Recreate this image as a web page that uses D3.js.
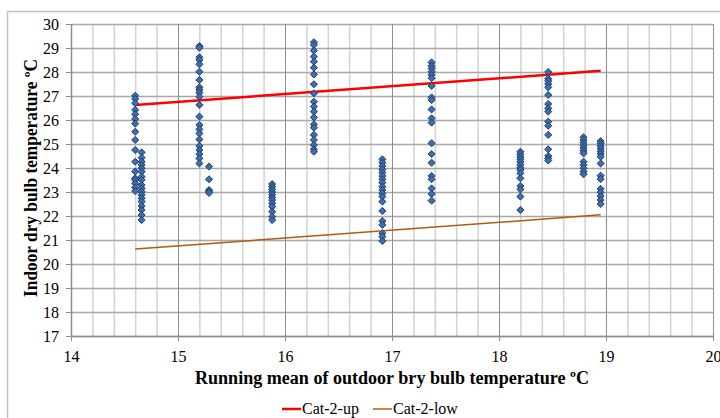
<!DOCTYPE html>
<html>
<head>
<meta charset="utf-8">
<script src="https://cdn.jsdelivr.net/npm/d3@7"></script>
<style>
  html, body { margin: 0; padding: 0; background: #ffffff; }
  svg { display: block; }
  svg text { font-family: "Liberation Serif", "Times New Roman", serif; }
</style>
</head>
<body>
<svg id="chart" width="720" height="418"></svg>
<script>
// ---------------- data ----------------
const xTicks = [14, 15, 16, 17, 18, 19, 20];
const yTicks = [17, 18, 19, 20, 21, 22, 23, 24, 25, 26, 27, 28, 29, 30];

// running mean outdoor temperature of each measurement group
const outdoorTemps = [14.60, 14.66, 15.20, 15.29, 15.88, 16.27, 16.91, 17.37, 18.20, 18.46, 18.79, 18.95];

// indoor dry bulb temperatures observed for each group
const indoorTemps = [
  [27.01, 26.88, 26.70, 26.42, 26.24, 26.04, 25.85, 25.51, 25.17, 24.75, 24.26, 23.85, 23.57, 23.50, 23.36, 23.19, 23.04],
  [24.65, 24.43, 24.26, 24.13, 23.99, 23.85, 23.64, 23.50, 23.29, 23.15, 23.01, 22.88, 22.74, 22.60, 22.42, 22.25, 22.04, 21.83],
  [29.08, 29.01, 28.61, 28.50, 28.32, 28.01, 27.67, 27.36, 27.25, 27.14, 26.97, 26.63, 26.14, 25.79, 25.61, 25.44, 25.19, 24.92, 24.75, 24.58, 24.40, 24.19],
  [24.06, 23.53, 23.08, 23.03, 22.96],
  [23.33, 23.22, 23.11, 23.00, 22.89, 22.78, 22.67, 22.53, 22.39, 22.18, 21.97, 21.83],
  [29.24, 29.13, 28.89, 28.64, 28.43, 28.18, 27.90, 27.49, 27.11, 26.76, 26.56, 26.35, 26.11, 25.82, 25.68, 25.38, 25.17, 24.96, 24.78, 24.68],
  [24.36, 24.22, 24.08, 23.94, 23.81, 23.67, 23.53, 23.39, 23.22, 23.08, 22.94, 22.81, 22.60, 22.21, 21.79, 21.63, 21.28, 21.14, 20.96],
  [28.40, 28.26, 28.15, 28.01, 27.88, 27.74, 27.42, 26.94, 26.83, 26.44, 26.07, 25.89, 25.03, 24.58, 24.22, 23.67, 23.53, 23.15, 22.92, 22.64],
  [24.68, 24.57, 24.46, 24.36, 24.25, 24.13, 24.01, 23.92, 23.78, 23.57, 23.25, 23.11, 22.81, 22.25],
  [28.00, 27.72, 27.63, 27.50, 27.36, 27.04, 26.67, 26.49, 26.35, 25.93, 25.76, 25.38, 24.78, 24.50, 24.40, 24.31],
  [25.28, 25.17, 25.06, 24.94, 24.83, 24.72, 24.61, 24.26, 24.13, 23.99, 23.85, 23.74],
  [25.12, 25.03, 24.92, 24.81, 24.69, 24.58, 24.47, 24.19, 23.68, 23.54, 23.13, 22.99, 22.83, 22.67, 22.50]
];

// comfort band limits (category 2)
const bandX = [14.6, 18.95];
const cat2Up = [26.62, 28.05];
const cat2Low = [20.62, 22.05];

const seriesNames = ["Cat-2-up", "Cat-2-low"];
// ---------------------------------------

const FONT = "'Liberation Serif', 'Times New Roman', serif";
const svg = d3.select("#chart");
const x = d3.scaleLinear().domain([14, 20]).range([71, 713]);
const y = d3.scaleLinear().domain([17, 30]).range([336, 24]);

// chart area border
svg.append("rect")
  .attr("x", 7.5).attr("y", 11.5).attr("width", 730).attr("height", 420)
  .attr("fill", "none").attr("stroke", "#c3c3c3").attr("stroke-width", 1.5);

// minor vertical gridlines
const minorX = d3.range(14, 20.001, 0.2).map(v => +v.toFixed(1)).filter(v => Math.abs(v - Math.round(v)) > 1e-6);
svg.append("g")
  .attr("transform", `translate(0,${y(17)})`)
  .call(d3.axisBottom(x).tickValues(minorX).tickSize(-(y(17) - y(30))).tickFormat(""))
  .call(g => g.select(".domain").remove())
  .call(g => g.selectAll("line").attr("stroke", "#d2d2d2").attr("stroke-width", 1.5));

// horizontal gridlines
svg.append("g")
  .attr("transform", `translate(${x(14)},0)`)
  .call(d3.axisLeft(y).tickValues(yTicks).tickSize(-(x(20) - x(14))).tickFormat(""))
  .call(g => g.select(".domain").remove())
  .call(g => g.selectAll("line").attr("stroke", "#a8a8a8").attr("stroke-width", 1.5));

// major vertical gridlines
svg.append("g")
  .attr("transform", `translate(0,${y(17)})`)
  .call(d3.axisBottom(x).tickValues(xTicks).tickSize(-(y(17) - y(30))).tickFormat(""))
  .call(g => g.select(".domain").remove())
  .call(g => g.selectAll("line").attr("stroke", "#8e8e8e").attr("stroke-width", 1));

// x axis
svg.append("g")
  .attr("transform", `translate(0,${y(17)})`)
  .call(d3.axisBottom(x).tickValues(xTicks).tickSize(5).tickSizeOuter(0).tickFormat(d3.format("d")).tickPadding(10))
  .attr("font-family", FONT).attr("font-size", 16)
  .call(g => g.select(".domain").attr("stroke", "#8e8e8e").attr("stroke-width", 1.5))
  .call(g => g.selectAll("line").attr("stroke", "#8e8e8e"))
  .call(g => g.selectAll("text").style("font-family", FONT).style("font-size", "16px").attr("fill", "#000"));

// y axis
svg.append("g")
  .attr("transform", `translate(${x(14)},0)`)
  .call(d3.axisLeft(y).tickValues(yTicks).tickSize(5).tickSizeOuter(0).tickFormat(d3.format("d")).tickPadding(7))
  .attr("font-family", FONT).attr("font-size", 16)
  .call(g => g.select(".domain").attr("stroke", "#8e8e8e").attr("stroke-width", 1.5))
  .call(g => g.selectAll("line").attr("stroke", "#8e8e8e"))
  .call(g => g.selectAll("text").style("font-family", FONT).style("font-size", "16px").attr("fill", "#000"));

// band lines
const line = d3.line().x(d => x(d[0])).y(d => y(d[1]));
svg.append("path")
  .datum(bandX.map((v, i) => [v, cat2Low[i]]))
  .attr("d", line).attr("fill", "none").attr("stroke", "#b35a10").attr("stroke-width", 1.5);
svg.append("path")
  .datum(bandX.map((v, i) => [v, cat2Up[i]]))
  .attr("d", line).attr("fill", "none").attr("stroke", "#ff0000").attr("stroke-width", 2.5);

// points
const points = [];
outdoorTemps.forEach((t, i) => indoorTemps[i].forEach(v => points.push([t, v])));
const diamond = d3.symbol().type(d3.symbolDiamond2).size(32);
svg.append("g").selectAll("path")
  .data(points)
  .join("path")
  .attr("transform", d => `translate(${x(d[0])},${y(d[1])})`)
  .attr("d", diamond)
  .attr("fill", "#3f6eab")
  .attr("stroke", "#1d3c6e")
  .attr("stroke-width", 1);

// axis titles
svg.append("text")
  .attr("x", 392).attr("y", 384)
  .attr("text-anchor", "middle")
  .style("font-family", FONT)
  .attr("font-weight", "bold").attr("font-size", 18)
  .attr("textLength", 394).attr("lengthAdjust", "spacingAndGlyphs")
  .text("Running mean of outdoor bry bulb temperature ºC");

svg.append("text")
  .attr("transform", "translate(37,178) rotate(-90)")
  .attr("text-anchor", "middle")
  .style("font-family", FONT)
  .attr("font-weight", "bold").attr("font-size", 18)
  .attr("textLength", 238).attr("lengthAdjust", "spacingAndGlyphs")
  .text("Indoor dry bulb temperature ºC");

// legend
const legendColors = ["#ff0000", "#b35a10"];
const legendWidths = [2.5, 1.5];
const legendX = [282, 373];
const lg = svg.append("g");
seriesNames.forEach((name, i) => {
  lg.append("line")
    .attr("x1", legendX[i]).attr("x2", legendX[i] + 19)
    .attr("y1", 409).attr("y2", 409)
    .attr("stroke", legendColors[i]).attr("stroke-width", legendWidths[i]);
  lg.append("text")
    .attr("x", legendX[i] + 20).attr("y", 414)
    .style("font-family", FONT)
    .style("font-size", "16px").attr("fill", "#000")
    .text(name);
});
</script>
</body>
</html>
